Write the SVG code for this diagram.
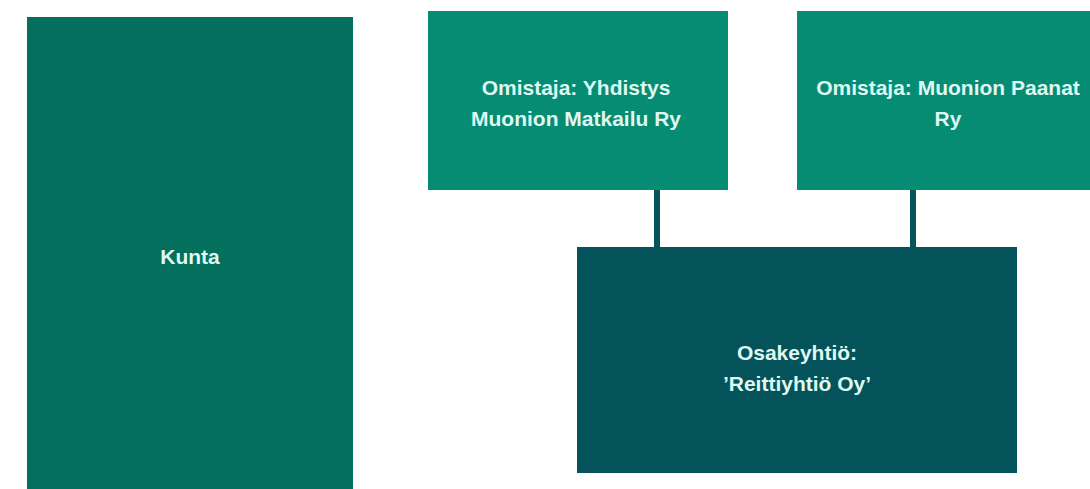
<svg xmlns="http://www.w3.org/2000/svg" width="1090" height="489" viewBox="0 0 1090 489">
<style>
.lbl{font-family:"Liberation Sans",Arial,sans-serif;font-weight:bold;font-size:21px;fill:#dff8f1;text-anchor:middle}
.conn{stroke:#07555b;stroke-width:6;fill:none}
</style>
<rect width="1090" height="489" fill="#ffffff"/>
<g id="connectors">
<line class="conn" x1="657" y1="190" x2="657" y2="248"/>
<line class="conn" x1="913" y1="190" x2="913" y2="248"/>
</g>
<g id="kunta">
<rect x="27" y="17" width="326" height="480" fill="#036f5c"/>
<text class="lbl" x="190" y="264">Kunta</text>
</g>
<g id="omistaja1">
<rect x="428" y="11" width="300" height="179" fill="#068c73"/>
<text class="lbl" x="576" y="95">Omistaja: Yhdistys</text>
<text class="lbl" x="576" y="126">Muonion Matkailu Ry</text>
</g>
<g id="omistaja2">
<rect x="797" y="11" width="300" height="179" fill="#068c73"/>
<text class="lbl" x="948" y="95">Omistaja: Muonion Paanat</text>
<text class="lbl" x="948" y="126">Ry</text>
</g>
<g id="osakeyhtio">
<rect x="577" y="247" width="440" height="226" fill="#04525a"/>
<text class="lbl" x="797" y="360">Osakeyhtiö:</text>
<text class="lbl" x="797" y="391">’Reittiyhtiö Oy’</text>
</g>
</svg>
